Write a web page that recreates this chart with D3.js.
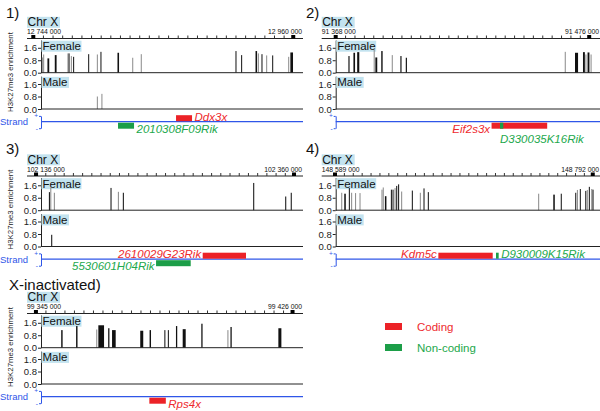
<!DOCTYPE html>
<html><head><meta charset="utf-8">
<script src="https://cdn.jsdelivr.net/npm/d3@7"></script>
<style>
html,body{margin:0;padding:0;background:#fff;}
svg{display:block;font-family:"Liberation Sans",Arial,sans-serif;}
</style></head>
<body>
<svg id="chart" width="600" height="411"></svg>
<script>
// ---------------- DATA ----------------
const panelLabels = ["1)", "2)", "3)", "4)", "X-inactivated)"];
const chromosome = "Chr X";
const rulerStartLabels = ["12 744 000", "91 368 000", "102 136 000", "148 589 000", "99 345 000"];
const rulerEndLabels   = ["12 960 000", "91 476 000", "102 360 000", "148 792 000", "99 426 000"];
const rulerStartKb = [12744, 91368, 102136, 148589, 99345];
const rulerEndKb   = [12960, 91476, 102360, 148792, 99426];
const rulerStepKb  = [8, 4, 8, 7, 3];
const viewStartKb  = [12750.4, 91368.0, 102140.3, 148589.55, 99346.6];
const viewEndKb    = [12968.1, 91480.6, 102367.8, 148797.7, 99429.3];
const yTicks = [0, 0.8, 1.6];
const yMax = 2.1;
const trackNames = ["Female", "Male"];
const yTitle = "H3K27me3 enrichment";
const strandTitle = "Strand";
const strandTicks = ["+", "-"];

// H3K27me3 peaks: [offset from ruler start (kb), width (kb), enrichment, tone k=black g=grey]
const female1 = [[7.5,0.8,0.98,"g"],[8.6,0.8,1.17,"g"],[12.5,1.5,0.92,"k"],[18.6,1.5,1.13,"k"],[28.8,0.8,1.24,"g"],[29.7,0.8,1.24,"k"],[31.6,0.8,1.07,"g"],[33.5,0.8,1.02,"k"],[46.0,0.8,1.19,"k"],[53.2,0.8,1.17,"g"],[56.2,0.8,1.34,"k"],[70.6,1.3,1.28,"k"],[82.6,0.8,0.96,"g"],[89.7,0.8,1.19,"g"],[168.4,0.8,1.39,"k"],[173.1,0.8,1.13,"k"],[185.3,1.3,1.39,"k"],[187.0,0.8,1.24,"g"],[190.0,0.8,1.19,"k"],[193.9,0.8,1.11,"g"],[198.9,0.8,1.11,"k"],[212.2,0.8,1.02,"g"],[214.7,2.2,1.30,"k"]];
const male1 = [[53.2,0.8,0.80,"g"],[57.0,0.8,0.97,"g"]];
const female2 = [[5.66,0.5,1.07,"k"],[7.9,0.7,1.28,"k"],[9.6,0.9,1.32,"k"],[16.4,0.43,1.49,"g"],[17.3,0.8,0.98,"k"],[19.7,0.6,1.39,"k"],[24.1,0.43,1.13,"g"],[27.8,0.5,1.07,"k"],[30.1,0.5,0.96,"k"],[97.8,0.43,1.34,"g"],[102.6,1.3,1.28,"k"],[105.75,0.8,1.32,"k"],[106.6,0.43,1.17,"g"],[107.7,0.8,1.30,"k"],[108.8,0.43,1.17,"g"]];
const male2 = [];
const female3 = [[11.6,0.9,1.16,"k"],[12.8,0.9,1.47,"g"],[15.9,0.9,1.12,"g"],[65.1,0.9,1.43,"k"],[71.5,0.9,1.18,"g"],[75.8,0.9,1.12,"k"],[189.0,0.9,1.75,"k"],[216.8,0.9,0.88,"k"],[221.6,0.9,1.12,"k"]];
const male3 = [[13.6,0.9,0.75,"k"]];
const female4 = [[5.3,0.8,1.12,"g"],[7.9,1.2,1.06,"k"],[11.3,0.8,1.42,"k"],[13.1,0.8,1.12,"g"],[16.2,0.8,1.10,"g"],[19.7,0.8,1.10,"g"],[37.0,0.8,1.32,"g"],[38.0,0.8,1.46,"g"],[39.9,1.2,0.90,"k"],[44.4,0.8,1.32,"k"],[45.7,0.8,1.32,"k"],[47.3,0.8,1.42,"g"],[48.6,0.8,1.56,"k"],[50.1,0.8,1.66,"k"],[52.5,0.8,1.20,"g"],[60.9,0.8,1.26,"k"],[67.2,0.8,1.12,"g"],[70.1,0.8,1.40,"k"],[73.5,0.8,1.16,"k"],[160.4,0.8,1.06,"g"],[172.5,1.2,1.00,"k"],[178.2,0.8,1.06,"k"],[189.6,0.8,1.12,"k"],[190.9,0.8,1.30,"g"],[193.2,0.8,1.36,"k"],[197.5,0.8,1.24,"k"],[198.7,0.8,1.30,"g"],[200.3,0.8,1.50,"k"],[202.2,0.8,1.36,"g"],[203.2,0.8,1.32,"k"]];
const male4 = [];
const female5 = [[8.2,0.45,1.13,"k"],[12.9,0.45,1.39,"k"],[19.2,0.32,1.17,"g"],[20.6,1.8,1.44,"k"],[23.0,0.4,1.25,"k"],[24.6,1.15,1.13,"k"],[33.4,0.95,1.09,"k"],[36.1,0.45,1.13,"k"],[40.7,0.32,1.13,"k"],[41.8,0.32,1.13,"k"],[44.4,0.4,1.39,"k"],[46.8,0.95,1.19,"k"],[52.4,0.4,1.54,"k"],[60.6,0.32,1.13,"g"],[61.6,0.4,1.33,"k"],[77.0,0.95,1.25,"k"]];
const male5 = [];

const femaleTracks = [female1, female2, female3, female4, female5];
const maleTracks = [male1, male2, male3, male4, male5];

// genes: name, type, strand, start/end offset from ruler start (kb), label side
const genes1 = [{name:"Ddx3x", type:"Coding", strand:"+", start:118.6, end:131.9, side:"right"},
                {name:"2010308F09Rik", type:"Non-coding", strand:"-", start:70.4, end:83.7, side:"right"}];
const genes2 = [{name:"Eif2s3x", type:"Coding", strand:"-", start:66.4, end:90.1, side:"left"},
                {name:"D330035K16Rik", type:"Non-coding", strand:"-", start:70.0, end:71.4, side:"below"}];
const genes3 = [{name:"2610029G23Rik", type:"Coding", strand:"+", start:144.7, end:182.3, side:"left"},
                {name:"5530601H04Rik", type:"Non-coding", strand:"-", start:104.2, end:134.3, side:"left"}];
const genes4 = [{name:"Kdm5c", type:"Coding", strand:"+", start:81.4, end:124.2, side:"left"},
                {name:"D930009K15Rik", type:"Non-coding", strand:"+", start:126.8, end:128.9, side:"right"}];
const genes5 = [{name:"Rps4x", type:"Coding", strand:"-", start:35.8, end:41.0, side:"right"}];
const geneTracks = [genes1, genes2, genes3, genes4, genes5];

const legendItems = ["Coding", "Non-coding"];

// ---------------- STYLE / LAYOUT ----------------
const geneColor = d3.scaleOrdinal().domain(legendItems).range(["#ec2227", "#1c9e48"]);
const geneTextColor = d3.scaleOrdinal().domain(legendItems).range(["#ee2a2e", "#22a84c"]);
const toneColor = {k: "#111111", g: "#8a8a8a"};
const labelBg = "#c3e3ef";
const blue = "#2f56e8";
const panelOX = [0, 300, 0, 300, 0];
const panelOY = [0, 0, 137.5, 137.5, 275];
const titleY = [18.3, 18.3, 153.5, 153.5, 290];

const svg = d3.select("#chart");

panelLabels.forEach((lab, i) => {
  const left = panelOX[i] === 0;
  const ox = panelOX[i], oy = panelOY[i];
  const axisX = left ? 41 : ox + 35.7;
  const rightX = left ? 303 : 600;
  const g = svg.append("g");
  const x = d3.scaleLinear().domain([viewStartKb[i], viewEndKb[i]]).range([axisX, rightX]);
  const s0 = rulerStartKb[i];

  // panel title
  g.append("text").attr("x", ox + (i === 4 ? 9 : 6)).attr("y", titleY[i])
    .attr("font-size", 15).attr("fill", "#111").text(lab);

  // Chr X label
  g.append("rect").attr("x", axisX - 14).attr("y", oy + 16.8).attr("width", 33).attr("height", 11).attr("fill", labelBg);
  g.append("text").attr("x", axisX - 13.5).attr("y", oy + 26.4).attr("font-size", 12).attr("fill", "#111").text(chromosome);

  // ruler
  const ry = oy + 38.5;
  g.append("text").attr("x", axisX - 14).attr("y", oy + 34.3).attr("font-size", 6.8).attr("fill", "#111").text(rulerStartLabels[i]);
  g.append("text").attr("x", rightX - 1).attr("y", oy + 34.3).attr("text-anchor", "end").attr("font-size", 6.8).attr("fill", "#111").text(rulerEndLabels[i]);
  g.append("line").attr("x1", axisX - 14).attr("x2", rightX).attr("y1", ry).attr("y2", ry).attr("stroke", "#222").attr("stroke-width", 1);
  const tickVals = d3.range(rulerStartKb[i] + rulerStepKb[i], rulerEndKb[i] - 0.01, rulerStepKb[i]);
  const rulerAxis = d3.axisTop(x).tickValues(tickVals).tickSize(3).tickFormat("");
  const ra = g.append("g").attr("transform", `translate(0,${ry})`).call(rulerAxis);
  ra.select(".domain").remove();
  ra.selectAll(".tick line").attr("stroke", "#333");
  [rulerStartKb[i], rulerEndKb[i]].forEach(v => {
    g.append("rect").attr("x", x(v) - 2).attr("y", ry - 3.5).attr("width", 4).attr("height", 3.5).attr("fill", "#000");
  });

  // tracks
  const trackTop = [oy + 40, oy + 76.2];
  const trackBase = [oy + 72.7, oy + 109];
  [femaleTracks[i], maleTracks[i]].forEach((data, t) => {
    const y = d3.scaleLinear().domain([0, yMax]).range([trackBase[t], trackTop[t]]);
    const ax = d3.axisLeft(y).tickValues(yTicks).tickFormat(d3.format(".1f")).tickSize(3).tickSizeOuter(0).tickPadding(1);
    const ag = g.append("g").attr("transform", `translate(${axisX},0)`).call(ax);
    ag.select(".domain").attr("stroke", "#222");
    ag.selectAll(".tick line").attr("stroke", "#222");
    ag.selectAll(".tick text").attr("font-size", 9.5).attr("fill", "#222").attr("font-family", "Liberation Sans, Arial, sans-serif");
    // name label
    const nm = trackNames[t];
    g.append("rect").attr("x", axisX + 0.5).attr("y", trackTop[t] + 0.7).attr("width", t === 0 ? 40 : 27.5).attr("height", 11).attr("fill", labelBg);
    g.append("text").attr("x", axisX + 1.5).attr("y", trackTop[t] + 10).attr("font-size", 11.5).attr("fill", "#111").text(nm);
    // bars
    g.append("g").selectAll("rect").data(data).join("rect")
      .attr("x", d => x(s0 + d[0] - d[1] / 2))
      .attr("width", d => Math.max(1, x(s0 + d[0] + d[1] / 2) - x(s0 + d[0] - d[1] / 2)))
      .attr("y", d => y(d[2]))
      .attr("height", d => y(0) - y(d[2]))
      .attr("fill", d => toneColor[d[3]]);
    // baseline
    g.append("line").attr("x1", axisX).attr("x2", rightX).attr("y1", y(0)).attr("y2", y(0)).attr("stroke", "#222");
  });

  if (left) {
    g.append("text").attr("transform", `translate(12.5,${oy + 72}) rotate(-90)`)
      .attr("text-anchor", "middle").attr("font-size", 7.8).attr("fill", "#222").text(yTitle);
    g.append("text").attr("x", 0).attr("y", oy + 125).attr("font-size", 9.5).attr("fill", blue).text(strandTitle);
  }

  // strand line
  const sy = oy + 121.7;
  g.append("line").attr("x1", axisX).attr("x2", rightX).attr("y1", sy).attr("y2", sy).attr("stroke", blue).attr("stroke-width", 1.2);
  const sp = d3.scalePoint().domain(strandTicks).range([sy - 5.8, sy + 6.5]);
  const sa = g.append("g").attr("transform", `translate(${axisX},0)`).call(d3.axisLeft(sp).tickSize(2).tickPadding(1).tickSizeOuter(0));
  sa.select(".domain").attr("stroke", blue);
  sa.selectAll(".tick line").attr("stroke", blue);
  sa.selectAll(".tick text").attr("fill", blue).attr("font-size", 6.5);

  // genes
  const gs = geneTracks[i].slice().sort((a, b) => (a.type === "Coding" ? -1 : 1));
  gs.forEach(gn => {
    const x0 = x(s0 + gn.start), x1 = x(s0 + gn.end);
    const gy = gn.strand === "+" ? sy - 6.5 : sy + 1;
    g.append("rect").attr("x", x0).attr("y", gy).attr("width", x1 - x0).attr("height", 6).attr("fill", geneColor(gn.type));
    let tx, anchor, ty;
    if (gn.side === "right") { tx = x1 + 2.5; anchor = "start"; }
    else if (gn.side === "left") { tx = x0 - 1.5; anchor = "end"; }
    else { tx = x0; anchor = "start"; }
    if (gn.side === "below") ty = sy + 21;
    else ty = gn.strand === "+" ? sy - 0.8 : sy + 11;
    g.append("text").attr("x", tx).attr("y", ty).attr("text-anchor", anchor)
      .attr("font-size", 11.5).attr("font-style", "italic").attr("fill", geneTextColor(gn.type)).text(gn.name);
  });
});

// legend
const lg = svg.append("g");
legendItems.forEach((name, k) => {
  const ly = 323 + k * 21;
  lg.append("rect").attr("x", 385).attr("y", ly).attr("width", 17).attr("height", 7).attr("fill", geneColor(name));
  lg.append("text").attr("x", 417).attr("y", ly + 7.5).attr("font-size", 11.5).attr("fill", geneTextColor(name)).text(name);
});
</script>
</body></html>
